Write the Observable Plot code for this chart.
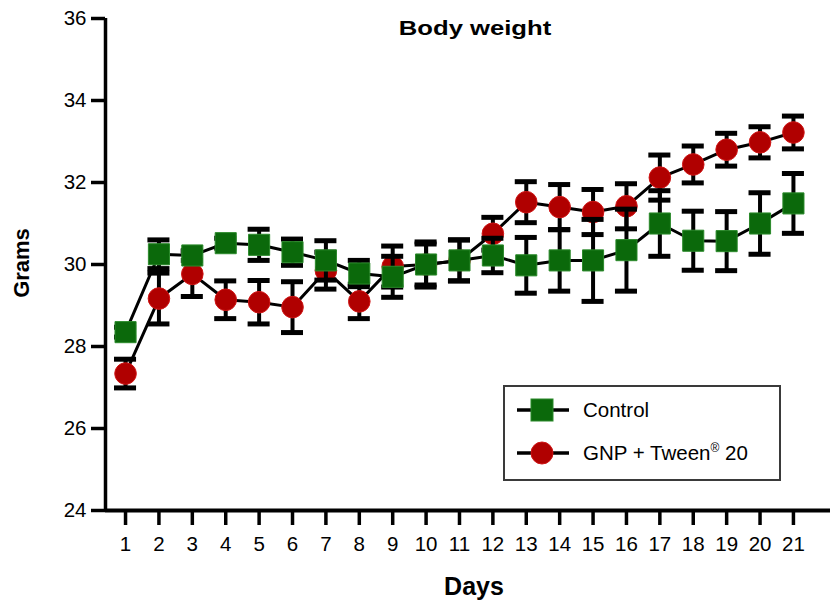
<!DOCTYPE html>
<html>
<head>
<meta charset="utf-8">
<script src="https://cdn.jsdelivr.net/npm/d3@7"></script>
<script src="https://cdn.jsdelivr.net/npm/@observablehq/plot@0.6"></script>
<style>
  body { margin: 0; background: white; font-family: "Liberation Sans", Arial, sans-serif; }
  #wrap { position: relative; width: 830px; height: 602px; overflow: hidden; }
  #chart svg text { font-size: 20.5px !important; font-family: "Liberation Sans", Arial, sans-serif !important; fill: #000; }
  .lbl { position: absolute; font-weight: bold; color: #000; white-space: nowrap; }
  #legend { position: absolute; left: 503px; top: 385px; width: 278px; height: 96px; box-sizing: border-box;
            border: 2px solid #3a3a3a; background: white; }
  .entry { position: absolute; left: 12px; height: 30px; display: flex; align-items: center; font-size: 20.5px; }
  .entry svg { margin-right: 14px; }
</style>
</head>
<body>
<div id="wrap">
  <div id="chart"></div>
  <div class="lbl" style="left:475px; top:16px; transform:translateX(-50%) scaleX(1.25); font-size:20.5px;">Body weight</div>
  <div class="lbl" style="left:22px; top:263px; transform:translate(-50%,-50%) rotate(-90deg); font-size:22px;">Grams</div>
  <div class="lbl" style="left:474px; top:572px; transform:translateX(-50%); font-size:25px;">Days</div>
  <div id="legend"></div>
</div>
<script>
const days = [1,2,3,4,5,6,7,8,9,10,11,12,13,14,15,16,17,18,19,20,21];
const controlMean = [28.35,30.25,30.22,30.52,30.48,30.30,30.10,29.78,29.70,30.00,30.10,30.22,29.98,30.10,30.10,30.35,31.00,30.58,30.57,31.00,31.49];
const controlErr  = [0.12,0.35,0.12,0.12,0.38,0.32,0.48,0.32,0.50,0.55,0.50,0.42,0.68,0.75,1.00,1.00,0.80,0.72,0.72,0.75,0.73];
const gnpMean = [27.34,29.17,29.77,29.14,29.08,28.96,29.85,29.10,29.95,30.00,30.10,30.75,31.52,31.40,31.28,31.42,32.12,32.44,32.80,32.98,33.22];
const gnpErr  = [0.35,0.62,0.55,0.46,0.53,0.62,0.45,0.42,0.50,0.50,0.50,0.40,0.50,0.55,0.55,0.55,0.55,0.45,0.40,0.38,0.40];
const yTicks = [24,26,28,30,32,34,36];
const seriesNames = ["Control", "GNP + Tween® 20"];
const xDomain = [0.4, 22.11];
const yDomain = [24, 36];
const capHalf = 0.33;

const control = days.map((d,i) => ({day: d, mean: controlMean[i], err: controlErr[i]}));
const gnp = days.map((d,i) => ({day: d, mean: gnpMean[i], err: gnpErr[i]}));

const green = "#0b690b", greenEdge = "#2b8a2b";
const red = "#b00000", redEdge = "#d01515";

function seriesMarks(data, symbol, r, fill, edge) {
  return [
    Plot.line(data, {x: "day", y: "mean", stroke: "black", strokeWidth: 3}),
    Plot.ruleX(data, {x: "day", y1: d => d.mean - d.err, y2: d => d.mean + d.err, stroke: "black", strokeWidth: 4}),
    Plot.ruleY(data, {y: d => d.mean + d.err, x1: d => d.day - capHalf, x2: d => d.day + capHalf, stroke: "black", strokeWidth: 5}),
    Plot.ruleY(data, {y: d => d.mean - d.err, x1: d => d.day - capHalf, x2: d => d.day + capHalf, stroke: "black", strokeWidth: 5}),
    Plot.dot(data, {x: "day", y: "mean", symbol, r, fill, stroke: edge, strokeWidth: 1})
  ];
}

const chart = Plot.plot({
  width: 830,
  height: 602,
  marginLeft: 105,
  marginRight: 0,
  marginTop: 18,
  marginBottom: 92,
  style: {fontSize: "20.5px", fontFamily: "Liberation Sans, Arial, sans-serif", background: "white", color: "black", overflow: "visible"},
  x: {domain: xDomain, axis: null},
  y: {domain: yDomain, axis: null},
  marks: [
    Plot.axisY({ticks: yTicks, label: null, fontSize: 20.5, tickSize: 14, tickPadding: 5, strokeWidth: 3.5, tickFormat: d => String(d)}),
    Plot.axisX({ticks: days, label: null, fontSize: 20.5, tickSize: 15, tickPadding: 11, strokeWidth: 3.5, tickFormat: d => String(d)}),
    Plot.ruleY([yDomain[0]], {stroke: "black", strokeWidth: 4}),
    Plot.ruleX([xDomain[0]], {stroke: "black", strokeWidth: 3.5}),
    ...seriesMarks(gnp, "circle", 10.8, red, redEdge),
    ...seriesMarks(control, "square", 11.9, green, greenEdge)
  ]
});
document.getElementById("chart").appendChild(chart);

// legend
const legend = document.getElementById("legend");
const entries = [
  {name: seriesNames[0], shape: "square", fill: green, edge: greenEdge, top: 8},
  {name: seriesNames[1], shape: "circle", fill: red, edge: redEdge, top: 51}
];
for (const e of entries) {
  const div = document.createElement("div");
  div.className = "entry";
  div.style.top = e.top + "px";
  const shape = e.shape === "square"
    ? `<rect x="14" y="4" width="22" height="22" fill="${e.fill}" stroke="${e.edge}" stroke-width="1"/>`
    : `<circle cx="25" cy="15" r="11" fill="${e.fill}" stroke="${e.edge}" stroke-width="1"/>`;
  const label = e.name.replace("®", "<sup style='font-size:12px'>®</sup>");
  div.innerHTML = `<svg width="52" height="30"><line x1="0" x2="52" y1="15" y2="15" stroke="black" stroke-width="3.5"/>${shape}</svg><span>${label}</span>`;
  legend.appendChild(div);
}
</script>
</body>
</html>
